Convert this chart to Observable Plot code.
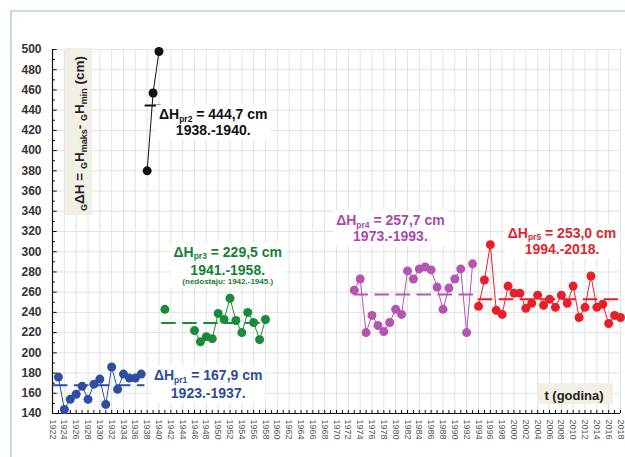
<!DOCTYPE html>
<html><head><meta charset="utf-8">
<script src="https://cdn.jsdelivr.net/npm/d3@7"></script>
<script src="https://cdn.jsdelivr.net/npm/@observablehq/plot@0.6"></script>
<style>
body{margin:0;background:#fff;}
#chart{position:relative;width:625px;height:457px;overflow:hidden;}
svg text{white-space:pre;}
</style></head><body><div id="chart"></div>
<script>
// ---- data ----
const years1 = [1923,1924,1925,1926,1927,1928,1929,1930,1931,1932,1933,1934,1935,1936,1937];
const values1 = [176,144,154,159,167,154,169,174,149,186,164,179,175,175,179];
const years2 = [1938,1939,1940];
const values2 = [380,457,498];
const years3 = [1941,1942,1943,1944,1945,1946,1947,1948,1949,1950,1951,1952,1953,1954,1955,1956,1957,1958];
const values3 = [243,null,null,null,null,222,211,216,214,239,233,254,232,220,240,230,213,233];
const years4 = [1973,1974,1975,1976,1977,1978,1979,1980,1981,1982,1983,1984,1985,1986,1987,1988,1989,1990,1991,1992,1993];
const values4 = [262,273,220,237,227,221,230,243,238,281,273,283,285,282,265,243,264,273,283,220,288];
const years5 = [1994,1995,1996,1997,1998,1999,2000,2001,2002,2003,2004,2005,2006,2007,2008,2009,2010,2011,2012,2013,2014,2015,2016,2017,2018];
const values5 = [246,272,307,242,238,266,259,259,244,249,257,247,253,245,257,249,266,235,245,276,245,248,229,237,235];
const means = [167.9, 444.7, 229.5, 257.7, 253.0];
const meanText = ["167,9", "444,7", "229,5", "257,7", "253,0"];
const periods = ["1923.-1937.", "1938.-1940.", "1941.-1958.", "1973.-1993.", "1994.-2018."];
const subs = ["pr1", "pr2", "pr3", "pr4", "pr5"];
const missingNote = "(nedostaju: 1942.-1945.)";
const xTickLabels = [1922,1924,1926,1928,1930,1932,1934,1936,1938,1940,1942,1944,1946,1948,1950,1952,1954,1956,1958,1960,1962,1964,1966,1968,1970,1972,1974,1976,1978,1980,1982,1984,1986,1988,1990,1992,1994,1996,1998,2000,2002,2004,2006,2008,2010,2012,2014,2016,2018];
const yTicks = [140,160,180,200,220,240,260,280,300,320,340,360,380,400,420,440,460,480,500];
const xAxisTitle = "t (godina)";

// ---- styling (not data) ----
const colors = ["#2f4ea1", "#111111", "#1b8a3a", "#b455b3", "#e6202a"];
const textColors = ["#2e4b9b", "#111111", "#178037", "#a94aa8", "#e0262b"];
const meanSpans = [[1922.2, 1937.4], [1937.7, 1940.2], [1940.5, 1958], [1973, 1993], [1994, 2018]];

const rows = (ys, vs) => ys.map((year, i) => ({year, value: vs[i]}));
const series = [rows(years1, values1), rows(years2, values2), rows(years3, values3), rows(years4, values4), rows(years5, values5)];
const meanRows = means.map((m, i) => meanSpans[i].map(year => ({year, value: m})));

const allYears = d3.range(1922, 2019);
const minorY = yTicks.slice(0, -1).map(v => v + 10);

const marks = [
  Plot.ruleY(yTicks.slice(1), {stroke: "#e2e2e2", strokeWidth: 1}),
  Plot.ruleX(xTickLabels.slice(1), {stroke: "#e2e2e2", strokeWidth: 1}),
  Plot.ruleX([1922], {stroke: "#111", strokeWidth: 1.2}),
  Plot.ruleY([140], {stroke: "#111", strokeWidth: 1.2}),
  Plot.ruleY(yTicks, {x1: 1922, x2: 1922.8, stroke: "#111"}),
  Plot.ruleY(minorY, {x1: 1922, x2: 1922.5, stroke: "#111"}),
  Plot.ruleX(allYears, {y1: 140, y2: 143, stroke: "#111"}),
  Plot.axisY({ticks: yTicks, tickSize: 0, tickPadding: 11, label: null, fontSize: 12, fontWeight: "bold", color: "#333", tickFormat: d => String(d)}),
  Plot.axisX({ticks: xTickLabels, tickSize: 0, tickPadding: 6, tickRotate: 90, label: null, fontSize: 9, color: "#555", tickFormat: d => String(d)})
];
series.forEach((s, i) => {
  marks.push(Plot.line(s, {x: "year", y: "value", stroke: colors[i], strokeWidth: 1}));
});
meanRows.forEach((m, i) => {
  marks.push(Plot.line(m, {x: "year", y: "value", stroke: colors[i], strokeWidth: 2, strokeDasharray: i === 1 ? null : "13,8"}));
});
series.forEach((s, i) => {
  marks.push(Plot.dot(s, {x: "year", y: "value", r: 4.5, fill: colors[i], stroke: "none"}));
});

const chart = Plot.plot({
  width: 625, height: 457,
  marginLeft: 52, marginRight: 5, marginTop: 49, marginBottom: 44,
  x: {domain: [1922, 2018]},
  y: {domain: [140, 500]},
  style: {fontFamily: "'Liberation Sans', Arial, sans-serif", background: "white", overflow: "visible"},
  marks
});
document.getElementById("chart").appendChild(chart);

const svg = d3.select(chart);
const X = chart.scale("x"), Y = chart.scale("y");
const FONT = "'Liberation Sans', Arial, sans-serif";

function rich(g, x, y, parts, size, color, weight, transform) {
  const t = g.append("text").attr("text-anchor", "middle").attr("font-family", FONT)
    .attr("font-size", size).attr("font-weight", weight).attr("fill", color);
  if (transform) t.attr("transform", transform); else t.attr("x", x).attr("y", y);
  let shift = 0;
  parts.forEach(p => {
    const ts = t.append("tspan").text(p.t);
    const target = p.sub ? p.sub : 0;
    if (target !== shift) { ts.attr("dy", target - shift); shift = target; }
    if (p.size) ts.attr("font-size", p.size);
  });
  return t;
}
function boxBehind(g, textNodes, pad, fill) {
  let x0 = Infinity, y0 = Infinity, x1 = -Infinity, y1 = -Infinity;
  textNodes.forEach(n => {
    const b = n.node().getBBox();
    x0 = Math.min(x0, b.x); y0 = Math.min(y0, b.y);
    x1 = Math.max(x1, b.x + b.width); y1 = Math.max(y1, b.y + b.height);
  });
  g.insert("rect", ":first-child").attr("x", x0 - pad).attr("y", y0 - pad / 2)
    .attr("width", x1 - x0 + 2 * pad).attr("height", y1 - y0 + pad).attr("fill", fill);
}

// annotation anchors: [year, value] of first line centre/baseline, and pixel offsets of later lines
const notes = [
  {at: [1948.4, 172.6], dy: [18]},
  {at: [1949.25, 430.5], dy: [16]},
  {at: [1951.7, 294.3], dy: [18, 27]},
  {at: [1979.2, 325.9], dy: [16]},
  {at: [2008.2, 313.1], dy: [16]}
];
notes.forEach((n, i) => {
  const g = svg.append("g");
  const cx = X.apply(n.at[0]), cy = Y.apply(n.at[1]);
  const t1 = rich(g, cx, cy, [{t: "ΔH"}, {t: subs[i], sub: 2.5, size: 8.5}, {t: " = " + meanText[i] + " cm"}], 14, textColors[i], "bold");
  const t2 = rich(g, cx, cy + n.dy[0], [{t: periods[i]}], 14, textColors[i], "bold");
  const nodes = [t1, t2];
  if (i === 2) nodes.push(rich(g, cx, cy + n.dy[1], [{t: missingNote}], 8, textColors[i], "bold"));
  boxBehind(g, nodes, 3, "white");
});

// y-axis title (rotated) in beige box
const gy = svg.append("g");
gy.append("rect").attr("x", 65).attr("y", 48).attr("width", 27).attr("height", 167).attr("fill", "#f2f0e5");
rich(gy, 0, 0, [
  {t: "G", sub: 3, size: 9}, {t: "ΔH = "}, {t: "G", sub: 3, size: 9}, {t: "H"}, {t: "maks", sub: 3, size: 9},
  {t: "- "}, {t: "G", sub: 3, size: 9}, {t: "H"}, {t: "min", sub: 3, size: 9}, {t: " (cm)"}
], 13.5, "#222", "bold", "translate(84,133.5) rotate(-90)");

// x-axis title in beige box
const gx = svg.append("g");
gx.append("rect").attr("x", 537).attr("y", 383).attr("width", 76).attr("height", 21).attr("fill", "#f2f0e5");
gx.append("text").attr("x", 574).attr("y", 399.5).attr("text-anchor", "middle").attr("font-family", FONT)
  .attr("font-size", 13).attr("font-weight", "bold").attr("fill", "#222").text(xAxisTitle);

// outer frame
svg.append("rect").attr("x", 11).attr("y", 11).attr("width", 700).attr("height", 600)
  .attr("fill", "none").attr("stroke", "#a8d6df").attr("stroke-width", 1.5);
</script></body></html>
